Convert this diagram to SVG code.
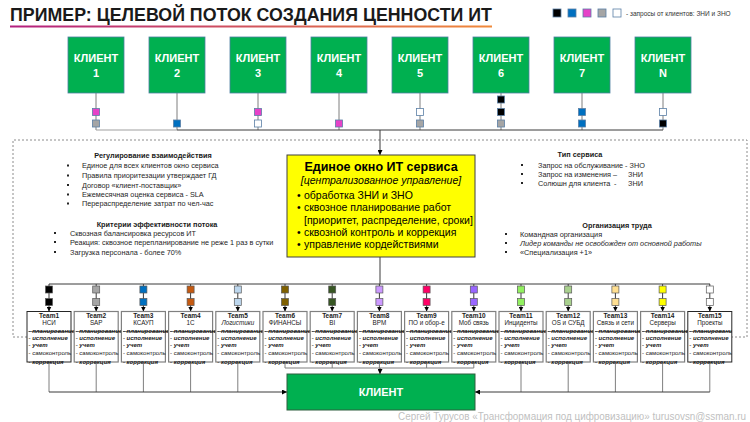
<svg xmlns="http://www.w3.org/2000/svg" width="750" height="422" viewBox="0 0 750 422">
<defs>
<style>
text { font-family: "Liberation Sans", Arial, sans-serif; }
.ttl { font-size:18px; font-weight:bold; fill:#1a1a1a; }
.cl { fill:#00b050; stroke:#4e7fa0; stroke-width:0.8; }
.clt { fill:#ffffff; font-weight:bold; font-size:11px; text-anchor:middle; }
.sm { font-size:7.3px; fill:#262626; }
.smi { font-size:7.3px; fill:#262626; font-style:italic; }
.smb { font-size:7.3px; font-weight:bold; text-anchor:middle; fill:#1a1a1a; }
.bul { fill:#262626; }
.tb { fill:#ffffff; stroke:#808080; stroke-width:1.2; }
.tbk { fill:#ffffff; stroke:#262626; stroke-width:1; }
.tt { font-size:6.5px; font-weight:bold; text-anchor:middle; fill:#1a1a1a; }
.tn { font-size:6.3px; text-anchor:middle; fill:#1a1a1a; }
.tl { font-size:6px; font-style:italic; font-weight:bold; fill:#1a1a1a; }
.st { text-decoration:line-through; }
.tr { font-size:6px; fill:#1a1a1a; }
.sq { stroke:#595959; stroke-width:0.7; }
.csq { stroke:#5b7fa6; stroke-width:0.8; }
.ln { fill:none; stroke:#3a3a3a; stroke-width:1; }
.lg { fill:none; stroke:#7f7f7f; stroke-width:1; }
.yt { font-size:10.5px; fill:#000000; }
</style>
<linearGradient id="ug" x1="0" y1="0" x2="1" y2="0">
<stop offset="0" stop-color="#b3207f"/>
<stop offset="1" stop-color="#f08a3a"/>
</linearGradient>
<marker id="arr" viewBox="0 0 10 10" refX="10" refY="5" markerWidth="5" markerHeight="5" markerUnits="userSpaceOnUse" orient="auto">
<path d="M0,0 L10,5 L0,10 z" fill="#000000"/>
</marker>
<clipPath id="c15"><rect x="687.8" y="305" width="44" height="70"/></clipPath>
</defs>

<rect x="0" y="0" width="750" height="422" fill="#ffffff"/>

<g id="title">
<text class="ttl" x="10" y="21" textLength="482" lengthAdjust="spacingAndGlyphs">ПРИМЕР: ЦЕЛЕВОЙ ПОТОК СОЗДАНИЯ ЦЕННОСТИ ИТ</text>
<rect x="10" y="25.5" width="482" height="2" fill="url(#ug)"/>
</g>

<g id="legend">
<rect x="553" y="9" width="8" height="8" fill="#000000" class="csq"/>
<rect x="568" y="9" width="8" height="8" fill="#0070c0" class="csq"/>
<rect x="583" y="9" width="8" height="8" fill="#e642c8" class="csq"/>
<rect x="598" y="9" width="8" height="8" fill="#a5a5a5" class="csq"/>
<rect x="613" y="9" width="8" height="8" fill="#ffffff" class="csq"/>
<text x="626" y="15.5" style="font-size:6.5px;fill:#333">- запросы от клиентов:  ЗНИ и ЗНО</text>
</g>

<g id="frame">
<path d="M27,337 H13 V140 H747 V337 H732" fill="none" stroke="#8c8c8c" stroke-width="1" stroke-dasharray="2,2"/>
</g>

<g id="connectors">
<path class="lg" d="M96,93 V130 M177,93 V130 M258,93 V130 M339,93 V130 M420,93 V130 M501,93 V130 M582,93 V130 M663,93 V130"/>
<path d="M96,130 H177" fill="none" stroke="#a0a0a0" stroke-width="1.2"/>
<path class="ln" d="M177,130 H663" stroke-width="1.2"/>
<path class="ln" d="M380,130 V155" marker-end="url(#arr)"/>
<path class="ln" d="M380,257 V284" stroke-width="1.5"/>
<path class="ln" d="M49,284 H710" stroke-width="1.2"/>
<g class="ln" marker-end="url(#arr)">
<path d="M49,284 V311.5"/><path d="M96.2,284 V311.5"/><path d="M143.4,284 V311.5"/><path d="M190.6,284 V311.5"/><path d="M237.8,284 V311.5"/>
<path d="M285,284 V311.5"/><path d="M332.2,284 V311.5"/><path d="M379.4,284 V311.5"/><path d="M426.6,284 V311.5"/><path d="M473.8,284 V311.5"/>
<path d="M521,284 V311.5"/><path d="M568.2,284 V311.5"/><path d="M615.4,284 V311.5"/><path d="M662.6,284 V311.5"/><path d="M709.8,284 V311.5"/>
</g>
<path class="lg" d="M49,362 V392 M96.2,362 V392 M143.4,362 V392 M190.6,362 V392 M237.8,362 V392"/>
<path class="lg" d="M521,362 V392 M568.2,362 V392 M615.4,362 V392 M662.6,362 V392 M709.8,362 V392"/>
<path class="lg" d="M285,362 V368 M332.2,362 V368 M379.4,362 V368 M426.6,362 V368 M473.8,362 V368 M285,368 H473.8"/>
<path class="ln" d="M49,392 H287" marker-end="url(#arr)"/>
<path class="ln" d="M709.8,392 H475" marker-end="url(#arr)"/>
<path class="ln" d="M380,368 V374" marker-end="url(#arr)"/>
<rect class="csq" x="92.5" y="108.5" width="7" height="7" fill="#e642c8"/>
<rect class="csq" x="92.5" y="120" width="7" height="7" fill="#a5a5a5"/>
<rect class="csq" x="173.5" y="120" width="7" height="7" fill="#0070c0"/>
<rect class="csq" x="254.5" y="108.5" width="7" height="7" fill="#e642c8"/>
<rect class="csq" x="254.5" y="120" width="7" height="7" fill="#ffffff"/>
<rect class="csq" x="335.5" y="120" width="7" height="7" fill="#e642c8"/>
<rect class="csq" x="416.5" y="108.5" width="7" height="7" fill="#ffffff"/>
<rect class="csq" x="416.5" y="120" width="7" height="7" fill="#a5a5a5"/>
<rect class="csq" x="497.5" y="96" width="7" height="7" fill="#000000"/>
<rect class="csq" x="497.5" y="108.5" width="7" height="7" fill="#000000"/>
<rect class="csq" x="497.5" y="120" width="7" height="7" fill="#a5a5a5"/>
<rect class="csq" x="578.5" y="108.5" width="7" height="7" fill="#0070c0"/>
<rect class="csq" x="578.5" y="120" width="7" height="7" fill="#0070c0"/>
<rect class="csq" x="659.5" y="108.5" width="7" height="7" fill="#ffffff"/>
<rect class="csq" x="659.5" y="120" width="7" height="7" fill="#000000"/>
<g class="sq">
<rect x="45.5" y="286" width="7" height="7" fill="#000000"/><rect x="45.5" y="298.5" width="7" height="7" fill="#000000"/>
<rect x="92.7" y="286" width="7" height="7" fill="#a5a5a5"/><rect x="92.7" y="298.5" width="7" height="7" fill="#a5a5a5"/>
<rect x="139.9" y="286" width="7" height="7" fill="#0070c0"/><rect x="139.9" y="298.5" width="7" height="7" fill="#0070c0"/>
<rect x="187.1" y="286" width="7" height="7" fill="#c55a11"/><rect x="187.1" y="298.5" width="7" height="7" fill="#c55a11"/>
<rect x="234.3" y="286" width="7" height="7" fill="#bdd7ee"/><rect x="234.3" y="298.5" width="7" height="7" fill="#bdd7ee"/>
<rect x="281.5" y="286" width="7" height="7" fill="#7f6000"/><rect x="281.5" y="298.5" width="7" height="7" fill="#7f6000"/>
<rect x="328.7" y="286" width="7" height="7" fill="#375623"/><rect x="328.7" y="298.5" width="7" height="7" fill="#375623"/>
<rect x="375.9" y="286" width="7" height="7" fill="#cc99ff"/><rect x="375.9" y="298.5" width="7" height="7" fill="#cc99ff"/>
<rect x="423.1" y="286" width="7" height="7" fill="#ff0066"/><rect x="423.1" y="298.5" width="7" height="7" fill="#ff0066"/>
<rect x="470.3" y="286" width="7" height="7" fill="#9966ff"/><rect x="470.3" y="298.5" width="7" height="7" fill="#9966ff"/>
<rect x="517.5" y="286" width="7" height="7" fill="#92f060"/><rect x="517.5" y="298.5" width="7" height="7" fill="#92f060"/>
<rect x="564.7" y="286" width="7" height="7" fill="#a9d18e"/><rect x="564.7" y="298.5" width="7" height="7" fill="#a9d18e"/>
<rect x="611.9" y="286" width="7" height="7" fill="#ffdf91"/><rect x="611.9" y="298.5" width="7" height="7" fill="#ffdf91"/>
<rect x="659.1" y="286" width="7" height="7" fill="#ffff00"/><rect x="659.1" y="298.5" width="7" height="7" fill="#ffff00"/>
<rect x="706.3" y="286" width="7" height="7" fill="#ffffff"/><rect x="706.3" y="298.5" width="7" height="7" fill="#ffffff"/>
</g>
</g>

<g id="client1"><rect class="cl" x="68" y="37" width="56" height="56"/><text class="clt" x="96" y="62">КЛИЕНТ</text><text class="clt" x="96" y="77">1</text></g>
<g id="client2"><rect class="cl" x="149" y="37" width="56" height="56"/><text class="clt" x="177" y="62">КЛИЕНТ</text><text class="clt" x="177" y="77">2</text></g>
<g id="client3"><rect class="cl" x="230" y="37" width="56" height="56"/><text class="clt" x="258" y="62">КЛИЕНТ</text><text class="clt" x="258" y="77">3</text></g>
<g id="client4"><rect class="cl" x="311" y="37" width="56" height="56"/><text class="clt" x="339" y="62">КЛИЕНТ</text><text class="clt" x="339" y="77">4</text></g>
<g id="client5"><rect class="cl" x="392" y="37" width="56" height="56"/><text class="clt" x="420" y="62">КЛИЕНТ</text><text class="clt" x="420" y="77">5</text></g>
<g id="client6"><rect class="cl" x="473" y="37" width="56" height="56"/><text class="clt" x="501" y="62">КЛИЕНТ</text><text class="clt" x="501" y="77">6</text></g>
<g id="client7"><rect class="cl" x="554" y="37" width="56" height="56"/><text class="clt" x="582" y="62">КЛИЕНТ</text><text class="clt" x="582" y="77">7</text></g>
<g id="clientN"><rect class="cl" x="635" y="37" width="56" height="56"/><text class="clt" x="663" y="62">КЛИЕНТ</text><text class="clt" x="663" y="77">N</text></g>

<g id="regulation">
<text class="smb" x="153" y="158">Регулирование  взаимодействия</text>
<rect class="bul" x="67" y="164.5" width="2" height="2"/><text class="sm" x="82" y="168">Единое  для  всех клиентов  окно сервиса</text>
<rect class="bul" x="67" y="174.5" width="2" height="2"/><text class="sm" x="82" y="178">Правила приоритезации утверждает ГД</text>
<rect class="bul" x="67" y="184" width="2" height="2"/><text class="sm" x="82" y="187.5">Договор «клиент-поставщик»</text>
<rect class="bul" x="67" y="193.5" width="2" height="2"/><text class="sm" x="82" y="197">Ежемесячная  оценка сервиса - SLA</text>
<rect class="bul" x="67" y="202.5" width="2" height="2"/><text class="sm" x="82" y="206">Перераспределение  затрат по чел-час</text>
</g>

<g id="criteria">
<text class="smb" x="157" y="226.5">Критерии  эффективности  потока</text>
<rect class="bul" x="54" y="232" width="2" height="2"/><text class="sm" x="70" y="235.5">Сквозная балансировка ресурсов ИТ</text>
<rect class="bul" x="54" y="241" width="2" height="2"/><text class="sm" x="70" y="244.5">Реакция: сквозное перепланирование не реже  1 раз в сутки</text>
<rect class="bul" x="54" y="251" width="2" height="2"/><text class="sm" x="70" y="254.5">Загрузка персонала  - более  70%</text>
</g>

<g id="service-types">
<text class="smb" x="580" y="156.5">Тип сервиса</text>
<rect class="bul" x="521" y="164" width="2" height="2"/><text class="sm" x="538" y="167.5">Запрос на обслуживание - ЗНО</text>
<rect class="bul" x="521" y="173" width="2" height="2"/><text class="sm" x="538" y="176.5">Запрос на изменения  –</text><text class="sm" x="628" y="176.5">ЗНИ</text>
<rect class="bul" x="521" y="182" width="2" height="2"/><text class="sm" x="538" y="185.5">Солюшн для клиента</text><text class="sm" x="614" y="185.5">-</text><text class="sm" x="628" y="185.5">ЗНИ</text>
</g>

<g id="labor">
<text class="smb" x="617" y="227.5">Организация  труда</text>
<rect class="bul" x="505" y="233" width="2" height="2"/><text class="sm" x="520" y="236.5">Командная организация</text>
<rect class="bul" x="505" y="242" width="2" height="2"/><text class="smi" x="520" y="245.5">Лидер команды не освобожден  от основной работы</text>
<rect class="bul" x="505" y="251" width="2" height="2"/><text class="sm" x="520" y="254.5">«Специализация +1»</text>
</g>

<g id="single-window">
<rect x="287" y="155" width="188" height="102" fill="#ffff00" stroke="#404040" stroke-width="1"/>
<text x="381" y="171" style="font-size:12.5px;font-weight:bold;text-anchor:middle">Единое окно ИТ сервиса</text>
<text x="381" y="184" style="font-size:10.5px;font-style:italic;text-anchor:middle">[централизованное управление]</text>
<text class="yt" x="297" y="198.5">•</text><text class="yt" x="304" y="198.5">обработка ЗНИ и ЗНО</text>
<text class="yt" x="297" y="211">•</text><text class="yt" x="304" y="211">сквозное планирование работ</text>
<text class="yt" x="304" y="223.5">[приоритет, распределение, сроки]</text>
<text class="yt" x="297" y="236">•</text><text class="yt" x="304" y="236">сквозной контроль и коррекция</text>
<text class="yt" x="297" y="248">•</text><text class="yt" x="304" y="248">управление кордействиями</text>
</g>

<g id="team1"><rect class="tbk" x="27" y="311.5" width="44" height="50.5"/><text class="tt" x="49" y="318">Team1</text><text class="tn" x="49" y="325">НСИ</text><text class="tl st" x="28.5" y="333">- планирование</text><text class="tl" x="28.5" y="339.5">- исполнение</text><text class="tl" x="28.5" y="347">- учет</text><text class="tr" x="28.5" y="355">- самоконтроль</text><text class="tl" x="28.5" y="364">- коррекция</text></g>
<g id="team2"><rect class="tb" x="74.2" y="311.5" width="44" height="50.5"/><text class="tt" x="96.2" y="318">Team2</text><text class="tn" x="96.2" y="325">SAP</text><text class="tl st" x="75.7" y="333">- планирование</text><text class="tl" x="75.7" y="339.5">- исполнение</text><text class="tl" x="75.7" y="347">- учет</text><text class="tr" x="75.7" y="355">- самоконтроль</text><text class="tl" x="75.7" y="364">- коррекция</text></g>
<g id="team3"><rect class="tb" x="121.4" y="311.5" width="44" height="50.5"/><text class="tt" x="143.4" y="318">Team3</text><text class="tn" x="143.4" y="325">КСАУП</text><text class="tl st" x="122.9" y="333">- планирование</text><text class="tl" x="122.9" y="339.5">- исполнение</text><text class="tl" x="122.9" y="347">- учет</text><text class="tr" x="122.9" y="355">- самоконтроль</text><text class="tl" x="122.9" y="364">- коррекция</text></g>
<g id="team4"><rect class="tb" x="168.6" y="311.5" width="44" height="50.5"/><text class="tt" x="190.6" y="318">Team4</text><text class="tn" x="190.6" y="325">1С</text><text class="tl st" x="170.1" y="333">- планирование</text><text class="tl" x="170.1" y="339.5">- исполнение</text><text class="tl" x="170.1" y="347">- учет</text><text class="tr" x="170.1" y="355">- самоконтроль</text><text class="tl" x="170.1" y="364">- коррекция</text></g>
<g id="team5"><rect class="tb" x="215.8" y="311.5" width="44" height="50.5"/><text class="tt" x="237.8" y="318">Team5</text><text class="tn" x="237.8" y="325" font-style="italic">Логистики</text><text class="tl st" x="217.3" y="333">- планирование</text><text class="tl" x="217.3" y="339.5">- исполнение</text><text class="tl" x="217.3" y="347">- учет</text><text class="tr" x="217.3" y="355">- самоконтроль</text><text class="tl" x="217.3" y="364">- коррекция</text></g>
<g id="team6"><rect class="tb" x="263" y="311.5" width="44" height="50.5"/><text class="tt" x="285" y="318">Team6</text><text class="tn" x="285" y="325">ФИНАНСЫ</text><text class="tl st" x="264.5" y="333">- планирование</text><text class="tl" x="264.5" y="339.5">- исполнение</text><text class="tl" x="264.5" y="347">- учет</text><text class="tr" x="264.5" y="355">- самоконтроль</text><text class="tl" x="264.5" y="364">- коррекция</text></g>
<g id="team7"><rect class="tb" x="310.2" y="311.5" width="44" height="50.5"/><text class="tt" x="332.2" y="318">Team7</text><text class="tn" x="332.2" y="325">BI</text><text class="tl st" x="311.7" y="333">- планирование</text><text class="tl" x="311.7" y="339.5">- исполнение</text><text class="tl" x="311.7" y="347">- учет</text><text class="tr" x="311.7" y="355">- самоконтроль</text><text class="tl" x="311.7" y="364">- коррекция</text></g>
<g id="team8"><rect class="tb" x="357.4" y="311.5" width="44" height="50.5"/><text class="tt" x="379.4" y="318">Team8</text><text class="tn" x="379.4" y="325">BPM</text><text class="tl st" x="358.9" y="333">- планирование</text><text class="tl" x="358.9" y="339.5">- исполнение</text><text class="tl" x="358.9" y="347">- учет</text><text class="tr" x="358.9" y="355">- самоконтроль</text><text class="tl" x="358.9" y="364">- коррекция</text></g>
<g id="team9"><rect class="tb" x="404.6" y="311.5" width="44" height="50.5"/><text class="tt" x="426.6" y="318">Team9</text><text class="tn" x="426.6" y="325">ПО и обор-е</text><text class="tl st" x="406.1" y="333">- планирование</text><text class="tl" x="406.1" y="339.5">- исполнение</text><text class="tl" x="406.1" y="347">- учет</text><text class="tr" x="406.1" y="355">- самоконтроль</text><text class="tl" x="406.1" y="364">- коррекция</text></g>
<g id="team10"><rect class="tb" x="451.8" y="311.5" width="44" height="50.5"/><text class="tt" x="473.8" y="318">Team10</text><text class="tn" x="473.8" y="325">Моб связь</text><text class="tl st" x="453.3" y="333">- планирование</text><text class="tl" x="453.3" y="339.5">- исполнение</text><text class="tl" x="453.3" y="347">- учет</text><text class="tr" x="453.3" y="355">- самоконтроль</text><text class="tl" x="453.3" y="364">- коррекция</text></g>
<g id="team11"><rect class="tb" x="499" y="311.5" width="44" height="50.5"/><text class="tt" x="521" y="318">Team11</text><text class="tn" x="521" y="325">Инциденты</text><text class="tl st" x="500.5" y="333">- планирование</text><text class="tl" x="500.5" y="339.5">- исполнение</text><text class="tl" x="500.5" y="347">- учет</text><text class="tr" x="500.5" y="355">- самоконтроль</text><text class="tl" x="500.5" y="364">- коррекция</text></g>
<g id="team12"><rect class="tb" x="546.2" y="311.5" width="44" height="50.5"/><text class="tt" x="568.2" y="318">Team12</text><text class="tn" x="568.2" y="325">OS и СУБД</text><text class="tl st" x="547.7" y="333">- планирование</text><text class="tl" x="547.7" y="339.5">- исполнение</text><text class="tl" x="547.7" y="347">- учет</text><text class="tr" x="547.7" y="355">- самоконтроль</text><text class="tl" x="547.7" y="364">- коррекция</text></g>
<g id="team13"><rect class="tb" x="593.4" y="311.5" width="44" height="50.5"/><text class="tt" x="615.4" y="318">Team13</text><text class="tn" x="615.4" y="325">Связь и сети</text><text class="tl st" x="594.9" y="333">- планирование</text><text class="tl" x="594.9" y="339.5">- исполнение</text><text class="tl" x="594.9" y="347">- учет</text><text class="tr" x="594.9" y="355">- самоконтроль</text><text class="tl" x="594.9" y="364">- коррекция</text></g>
<g id="team14"><rect class="tb" x="640.6" y="311.5" width="44" height="50.5"/><text class="tt" x="662.6" y="318">Team14</text><text class="tn" x="662.6" y="325">Серверы</text><text class="tl st" x="642.1" y="333">- планирование</text><text class="tl" x="642.1" y="339.5">- исполнение</text><text class="tl" x="642.1" y="347">- учет</text><text class="tr" x="642.1" y="355">- самоконтроль</text><text class="tl" x="642.1" y="364">- коррекция</text></g>
<g id="team15"><rect class="tbk" x="687.8" y="311.5" width="44" height="50.5"/><g clip-path="url(#c15)"><text class="tt" x="709.8" y="318">Team15</text><text class="tn" x="709.8" y="325">Проекты</text><text class="tl st" x="689.3" y="333">- планирование</text><text class="tl" x="689.3" y="339.5">- исполнение</text><text class="tl" x="689.3" y="347">- учет</text><text class="tr" x="689.3" y="355">- самоконтроль</text><text class="tl" x="689.3" y="364">- коррекция</text></g></g>

<g id="client-bottom">
<rect x="287" y="374" width="188" height="36" fill="#00b050" stroke="#2f5f3f" stroke-width="1"/>
<text class="clt" x="381" y="396">КЛИЕНТ</text>
</g>

<g id="footer">
<text x="746" y="419.5" style="font-size:10px;fill:#bfbfbf;text-anchor:end" textLength="348" lengthAdjust="spacingAndGlyphs">Сергей Турусов «Трансформация под цифровизацию» turusovsn@ssman.ru</text>
</g>
</svg>
